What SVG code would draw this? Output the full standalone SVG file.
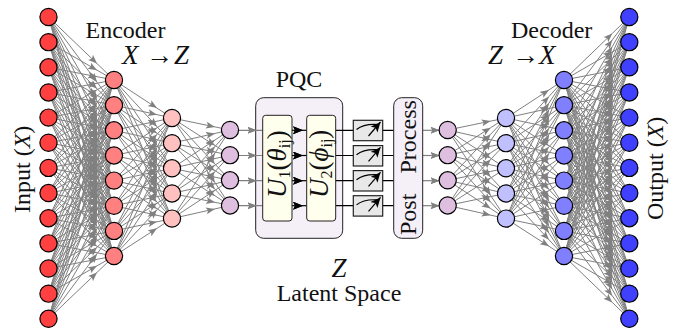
<svg xmlns="http://www.w3.org/2000/svg" width="678" height="331" viewBox="0 0 678 331">
<style>
text{font-family:"Liberation Serif","DejaVu Serif",serif;font-size:24px;fill:#111}
.c path{fill:none;stroke:#808080;stroke-width:1;marker-mid:url(#a)}
.g{fill:none;stroke:#808080;stroke-width:1.2;marker-mid:url(#a)}
.k{fill:none;stroke:#000;stroke-width:1.2;marker-mid:url(#b)}
.w{fill:none;stroke:#000;stroke-width:1.2}
circle{stroke:#000;stroke-width:1.2}
.n1{fill:#ff4040}.n2{fill:#ff8080}.n3{fill:#ffc0c0}.n4{fill:#dfbfdf}.n5{fill:#c0c0ff}.n6{fill:#8080ff}.n7{fill:#4040ff}
.box{fill:#f5eff8;stroke:#222;stroke-width:1}
.u{fill:#ffffee;stroke:#222;stroke-width:1}
.m{fill:#e8e8e8;stroke:#222;stroke-width:1.2}
.big{font-size:27px}
.i{font-style:italic}
.ul{font-size:27px}
.s{font-size:16px}
</style>
<defs>
<marker id="a" markerUnits="userSpaceOnUse" markerWidth="10" markerHeight="8" refX="9" refY="3.5" orient="auto"><path d="M0 0L9 3.5L0 7L2 3.5z" fill="#808080"/></marker>
<marker id="b" markerUnits="userSpaceOnUse" markerWidth="11" markerHeight="9" refX="10" refY="4" orient="auto"><path d="M0 0L10 4L0 8L2 4z" fill="#000"/></marker>
<marker id="e" markerUnits="userSpaceOnUse" markerWidth="11" markerHeight="10" refX="10" refY="4.5" orient="auto"><path d="M0 0L10 4.5L0 9L2.5 4.5z" fill="#000"/></marker>
</defs>
<g id="connectors">
<g class="c" id="enc12">
<path d="M48.5 17l48.5 46.6L114 80"/><path d="M48.5 17l48.5 65.2L114 105.15"/><path d="M48.5 17l48.5 83.8L114 130.3"/><path d="M48.5 17l48.5 102.5L114 155.45"/><path d="M48.5 17l48.5 121.1L114 180.6"/><path d="M48.5 17l48.5 139.7L114 205.75"/><path d="M48.5 17l48.5 158.3L114 230.9"/><path d="M48.5 17l48.5 176.9L114 256.05"/>
<path d="M48.5 42.15l48.5 28L114 80"/><path d="M48.5 42.15l48.5 46.6L114 105.15"/><path d="M48.5 42.15l48.5 65.2L114 130.3"/><path d="M48.5 42.15l48.5 83.8L114 155.45"/><path d="M48.5 42.15l48.5 102.5L114 180.6"/><path d="M48.5 42.15l48.5 121.1L114 205.75"/><path d="M48.5 42.15l48.5 139.7L114 230.9"/><path d="M48.5 42.15l48.5 158.3L114 256.05"/>
<path d="M48.5 67.3l48.5 9.4L114 80"/><path d="M48.5 67.3l48.5 28L114 105.15"/><path d="M48.5 67.3l48.5 46.6L114 130.3"/><path d="M48.5 67.3l48.5 65.2L114 155.45"/><path d="M48.5 67.3l48.5 83.8L114 180.6"/><path d="M48.5 67.3l48.5 102.5L114 205.75"/><path d="M48.5 67.3l48.5 121.1L114 230.9"/><path d="M48.5 67.3l48.5 139.7L114 256.05"/>
<path d="M48.5 92.45l48.5 -9.2L114 80"/><path d="M48.5 92.45l48.5 9.4L114 105.15"/><path d="M48.5 92.45l48.5 28L114 130.3"/><path d="M48.5 92.45l48.5 46.6L114 155.45"/><path d="M48.5 92.45l48.5 65.2L114 180.6"/><path d="M48.5 92.45l48.5 83.8L114 205.75"/><path d="M48.5 92.45l48.5 102.5L114 230.9"/><path d="M48.5 92.45l48.5 121.1L114 256.05"/>
<path d="M48.5 117.6l48.5 -27.8L114 80"/><path d="M48.5 117.6l48.5 -9.2L114 105.15"/><path d="M48.5 117.6l48.5 9.4L114 130.3"/><path d="M48.5 117.6l48.5 28L114 155.45"/><path d="M48.5 117.6l48.5 46.6L114 180.6"/><path d="M48.5 117.6l48.5 65.2L114 205.75"/><path d="M48.5 117.6l48.5 83.8L114 230.9"/><path d="M48.5 117.6l48.5 102.5L114 256.05"/>
<path d="M48.5 142.75l48.5 -46.4L114 80"/><path d="M48.5 142.75l48.5 -27.8L114 105.15"/><path d="M48.5 142.75l48.5 -9.2L114 130.3"/><path d="M48.5 142.75l48.5 9.4L114 155.45"/><path d="M48.5 142.75l48.5 28L114 180.6"/><path d="M48.5 142.75l48.5 46.6L114 205.75"/><path d="M48.5 142.75l48.5 65.2L114 230.9"/><path d="M48.5 142.75l48.5 83.8L114 256.05"/>
<path d="M48.5 167.9l48.5 -65L114 80"/><path d="M48.5 167.9l48.5 -46.4L114 105.15"/><path d="M48.5 167.9l48.5 -27.8L114 130.3"/><path d="M48.5 167.9l48.5 -9.2L114 155.45"/><path d="M48.5 167.9l48.5 9.4L114 180.6"/><path d="M48.5 167.9l48.5 28L114 205.75"/><path d="M48.5 167.9l48.5 46.6L114 230.9"/><path d="M48.5 167.9l48.5 65.2L114 256.05"/>
<path d="M48.5 193.05l48.5 -83.7L114 80"/><path d="M48.5 193.05l48.5 -65L114 105.15"/><path d="M48.5 193.05l48.5 -46.4L114 130.3"/><path d="M48.5 193.05l48.5 -27.8L114 155.45"/><path d="M48.5 193.05l48.5 -9.2L114 180.6"/><path d="M48.5 193.05l48.5 9.4L114 205.75"/><path d="M48.5 193.05l48.5 28L114 230.9"/><path d="M48.5 193.05l48.5 46.6L114 256.05"/>
<path d="M48.5 218.2l48.5 -102.3L114 80"/><path d="M48.5 218.2l48.5 -83.7L114 105.15"/><path d="M48.5 218.2l48.5 -65L114 130.3"/><path d="M48.5 218.2l48.5 -46.4L114 155.45"/><path d="M48.5 218.2l48.5 -27.8L114 180.6"/><path d="M48.5 218.2l48.5 -9.2L114 205.75"/><path d="M48.5 218.2l48.5 9.4L114 230.9"/><path d="M48.5 218.2l48.5 28L114 256.05"/>
<path d="M48.5 243.35l48.5 -120.9L114 80"/><path d="M48.5 243.35l48.5 -102.3L114 105.15"/><path d="M48.5 243.35l48.5 -83.7L114 130.3"/><path d="M48.5 243.35l48.5 -65L114 155.45"/><path d="M48.5 243.35l48.5 -46.4L114 180.6"/><path d="M48.5 243.35l48.5 -27.8L114 205.75"/><path d="M48.5 243.35l48.5 -9.2L114 230.9"/><path d="M48.5 243.35l48.5 9.4L114 256.05"/>
<path d="M48.5 268.5l48.5 -139.5L114 80"/><path d="M48.5 268.5l48.5 -120.9L114 105.15"/><path d="M48.5 268.5l48.5 -102.3L114 130.3"/><path d="M48.5 268.5l48.5 -83.7L114 155.45"/><path d="M48.5 268.5l48.5 -65L114 180.6"/><path d="M48.5 268.5l48.5 -46.4L114 205.75"/><path d="M48.5 268.5l48.5 -27.8L114 230.9"/><path d="M48.5 268.5l48.5 -9.2L114 256.05"/>
<path d="M48.5 293.65l48.5 -158.1L114 80"/><path d="M48.5 293.65l48.5 -139.5L114 105.15"/><path d="M48.5 293.65l48.5 -120.9L114 130.3"/><path d="M48.5 293.65l48.5 -102.3L114 155.45"/><path d="M48.5 293.65l48.5 -83.7L114 180.6"/><path d="M48.5 293.65l48.5 -65L114 205.75"/><path d="M48.5 293.65l48.5 -46.4L114 230.9"/><path d="M48.5 293.65l48.5 -27.8L114 256.05"/>
<path d="M48.5 318.8l48.5 -176.7L114 80"/><path d="M48.5 318.8l48.5 -158.1L114 105.15"/><path d="M48.5 318.8l48.5 -139.5L114 130.3"/><path d="M48.5 318.8l48.5 -120.9L114 155.45"/><path d="M48.5 318.8l48.5 -102.3L114 180.6"/><path d="M48.5 318.8l48.5 -83.7L114 205.75"/><path d="M48.5 318.8l48.5 -65L114 230.9"/><path d="M48.5 318.8l48.5 -46.4L114 256.05"/>
</g>
<g class="c" id="enc23">
<path d="M114 80l43 28.1L172 118"/><path d="M114 80l43 46.7L172 143.15"/><path d="M114 80l43 65.3L172 168.3"/><path d="M114 80l43 84L172 193.45"/><path d="M114 80l43 102.6L172 218.6"/>
<path d="M114 105.15l43 9.5L172 118"/><path d="M114 105.15l43 28.1L172 143.15"/><path d="M114 105.15l43 46.7L172 168.3"/><path d="M114 105.15l43 65.3L172 193.45"/><path d="M114 105.15l43 84L172 218.6"/>
<path d="M114 130.3l43 -9.1L172 118"/><path d="M114 130.3l43 9.5L172 143.15"/><path d="M114 130.3l43 28.1L172 168.3"/><path d="M114 130.3l43 46.7L172 193.45"/><path d="M114 130.3l43 65.3L172 218.6"/>
<path d="M114 155.45l43 -27.7L172 118"/><path d="M114 155.45l43 -9.1L172 143.15"/><path d="M114 155.45l43 9.5L172 168.3"/><path d="M114 155.45l43 28.1L172 193.45"/><path d="M114 155.45l43 46.7L172 218.6"/>
<path d="M114 180.6l43 -46.3L172 118"/><path d="M114 180.6l43 -27.7L172 143.15"/><path d="M114 180.6l43 -9.1L172 168.3"/><path d="M114 180.6l43 9.5L172 193.45"/><path d="M114 180.6l43 28.1L172 218.6"/>
<path d="M114 205.75l43 -64.9L172 118"/><path d="M114 205.75l43 -46.3L172 143.15"/><path d="M114 205.75l43 -27.7L172 168.3"/><path d="M114 205.75l43 -9.1L172 193.45"/><path d="M114 205.75l43 9.5L172 218.6"/>
<path d="M114 230.9l43 -83.5L172 118"/><path d="M114 230.9l43 -64.9L172 143.15"/><path d="M114 230.9l43 -46.3L172 168.3"/><path d="M114 230.9l43 -27.7L172 193.45"/><path d="M114 230.9l43 -9.1L172 218.6"/>
<path d="M114 256.05l43 -102.2L172 118"/><path d="M114 256.05l43 -83.5L172 143.15"/><path d="M114 256.05l43 -64.9L172 168.3"/><path d="M114 256.05l43 -46.3L172 193.45"/><path d="M114 256.05l43 -27.7L172 218.6"/>
</g>
<g class="c" id="enc34">
<path d="M172 118l43 8.9L230 130"/><path d="M172 118l43 27.5L230 155.15"/><path d="M172 118l43 46.1L230 180.3"/><path d="M172 118l43 64.7L230 205.45"/>
<path d="M172 143.15l43 -9.7L230 130"/><path d="M172 143.15l43 8.9L230 155.15"/><path d="M172 143.15l43 27.5L230 180.3"/><path d="M172 143.15l43 46.1L230 205.45"/>
<path d="M172 168.3l43 -28.3L230 130"/><path d="M172 168.3l43 -9.7L230 155.15"/><path d="M172 168.3l43 8.9L230 180.3"/><path d="M172 168.3l43 27.5L230 205.45"/>
<path d="M172 193.45l43 -47L230 130"/><path d="M172 193.45l43 -28.3L230 155.15"/><path d="M172 193.45l43 -9.7L230 180.3"/><path d="M172 193.45l43 8.9L230 205.45"/>
<path d="M172 218.6l43 -65.6L230 130"/><path d="M172 218.6l43 -47L230 155.15"/><path d="M172 218.6l43 -28.3L230 180.3"/><path d="M172 218.6l43 -9.7L230 205.45"/>
</g>
<g class="c" id="dec43">
<path d="M447.7 130l43 -8.9L506 118"/><path d="M447.7 130l43 9.7L506 143.15"/><path d="M447.7 130l43 28.3L506 168.3"/><path d="M447.7 130l43 47L506 193.45"/><path d="M447.7 130l43 65.6L506 218.6"/>
<path d="M447.7 155.15l43 -27.5L506 118"/><path d="M447.7 155.15l43 -8.9L506 143.15"/><path d="M447.7 155.15l43 9.7L506 168.3"/><path d="M447.7 155.15l43 28.3L506 193.45"/><path d="M447.7 155.15l43 47L506 218.6"/>
<path d="M447.7 180.3l43 -46.1L506 118"/><path d="M447.7 180.3l43 -27.5L506 143.15"/><path d="M447.7 180.3l43 -8.9L506 168.3"/><path d="M447.7 180.3l43 9.7L506 193.45"/><path d="M447.7 180.3l43 28.3L506 218.6"/>
<path d="M447.7 205.45l43 -64.7L506 118"/><path d="M447.7 205.45l43 -46.1L506 143.15"/><path d="M447.7 205.45l43 -27.5L506 168.3"/><path d="M447.7 205.45l43 -8.9L506 193.45"/><path d="M447.7 205.45l43 9.7L506 218.6"/>
</g>
<g class="c" id="dec32">
<path d="M506 118l43 -28.1L564 80"/><path d="M506 118l43 -9.5L564 105.15"/><path d="M506 118l43 9.1L564 130.3"/><path d="M506 118l43 27.7L564 155.45"/><path d="M506 118l43 46.3L564 180.6"/><path d="M506 118l43 64.9L564 205.75"/><path d="M506 118l43 83.5L564 230.9"/><path d="M506 118l43 102.2L564 256.05"/>
<path d="M506 143.15l43 -46.7L564 80"/><path d="M506 143.15l43 -28.1L564 105.15"/><path d="M506 143.15l43 -9.5L564 130.3"/><path d="M506 143.15l43 9.1L564 155.45"/><path d="M506 143.15l43 27.7L564 180.6"/><path d="M506 143.15l43 46.3L564 205.75"/><path d="M506 143.15l43 64.9L564 230.9"/><path d="M506 143.15l43 83.5L564 256.05"/>
<path d="M506 168.3l43 -65.3L564 80"/><path d="M506 168.3l43 -46.7L564 105.15"/><path d="M506 168.3l43 -28.1L564 130.3"/><path d="M506 168.3l43 -9.5L564 155.45"/><path d="M506 168.3l43 9.1L564 180.6"/><path d="M506 168.3l43 27.7L564 205.75"/><path d="M506 168.3l43 46.3L564 230.9"/><path d="M506 168.3l43 64.9L564 256.05"/>
<path d="M506 193.45l43 -84L564 80"/><path d="M506 193.45l43 -65.3L564 105.15"/><path d="M506 193.45l43 -46.7L564 130.3"/><path d="M506 193.45l43 -28.1L564 155.45"/><path d="M506 193.45l43 -9.5L564 180.6"/><path d="M506 193.45l43 9.1L564 205.75"/><path d="M506 193.45l43 27.7L564 230.9"/><path d="M506 193.45l43 46.3L564 256.05"/>
<path d="M506 218.6l43 -102.6L564 80"/><path d="M506 218.6l43 -84L564 105.15"/><path d="M506 218.6l43 -65.3L564 130.3"/><path d="M506 218.6l43 -46.7L564 155.45"/><path d="M506 218.6l43 -28.1L564 180.6"/><path d="M506 218.6l43 -9.5L564 205.75"/><path d="M506 218.6l43 9.1L564 230.9"/><path d="M506 218.6l43 27.7L564 256.05"/>
</g>
<g class="c" id="dec21">
<path d="M564 80l48.3 -46.6L629.3 17"/><path d="M564 80l48.3 -28L629.3 42.15"/><path d="M564 80l48.3 -9.4L629.3 67.3"/><path d="M564 80l48.3 9.2L629.3 92.45"/><path d="M564 80l48.3 27.8L629.3 117.6"/><path d="M564 80l48.3 46.4L629.3 142.75"/><path d="M564 80l48.3 65L629.3 167.9"/><path d="M564 80l48.3 83.7L629.3 193.05"/><path d="M564 80l48.3 102.3L629.3 218.2"/><path d="M564 80l48.3 120.9L629.3 243.35"/><path d="M564 80l48.3 139.5L629.3 268.5"/><path d="M564 80l48.3 158.1L629.3 293.65"/><path d="M564 80l48.3 176.7L629.3 318.8"/>
<path d="M564 105.15l48.3 -65.2L629.3 17"/><path d="M564 105.15l48.3 -46.6L629.3 42.15"/><path d="M564 105.15l48.3 -28L629.3 67.3"/><path d="M564 105.15l48.3 -9.4L629.3 92.45"/><path d="M564 105.15l48.3 9.2L629.3 117.6"/><path d="M564 105.15l48.3 27.8L629.3 142.75"/><path d="M564 105.15l48.3 46.4L629.3 167.9"/><path d="M564 105.15l48.3 65L629.3 193.05"/><path d="M564 105.15l48.3 83.7L629.3 218.2"/><path d="M564 105.15l48.3 102.3L629.3 243.35"/><path d="M564 105.15l48.3 120.9L629.3 268.5"/><path d="M564 105.15l48.3 139.5L629.3 293.65"/><path d="M564 105.15l48.3 158.1L629.3 318.8"/>
<path d="M564 130.3l48.3 -83.8L629.3 17"/><path d="M564 130.3l48.3 -65.2L629.3 42.15"/><path d="M564 130.3l48.3 -46.6L629.3 67.3"/><path d="M564 130.3l48.3 -28L629.3 92.45"/><path d="M564 130.3l48.3 -9.4L629.3 117.6"/><path d="M564 130.3l48.3 9.2L629.3 142.75"/><path d="M564 130.3l48.3 27.8L629.3 167.9"/><path d="M564 130.3l48.3 46.4L629.3 193.05"/><path d="M564 130.3l48.3 65L629.3 218.2"/><path d="M564 130.3l48.3 83.7L629.3 243.35"/><path d="M564 130.3l48.3 102.3L629.3 268.5"/><path d="M564 130.3l48.3 120.9L629.3 293.65"/><path d="M564 130.3l48.3 139.5L629.3 318.8"/>
<path d="M564 155.45l48.3 -102.5L629.3 17"/><path d="M564 155.45l48.3 -83.8L629.3 42.15"/><path d="M564 155.45l48.3 -65.2L629.3 67.3"/><path d="M564 155.45l48.3 -46.6L629.3 92.45"/><path d="M564 155.45l48.3 -28L629.3 117.6"/><path d="M564 155.45l48.3 -9.4L629.3 142.75"/><path d="M564 155.45l48.3 9.2L629.3 167.9"/><path d="M564 155.45l48.3 27.8L629.3 193.05"/><path d="M564 155.45l48.3 46.4L629.3 218.2"/><path d="M564 155.45l48.3 65L629.3 243.35"/><path d="M564 155.45l48.3 83.7L629.3 268.5"/><path d="M564 155.45l48.3 102.3L629.3 293.65"/><path d="M564 155.45l48.3 120.9L629.3 318.8"/>
<path d="M564 180.6l48.3 -121.1L629.3 17"/><path d="M564 180.6l48.3 -102.5L629.3 42.15"/><path d="M564 180.6l48.3 -83.8L629.3 67.3"/><path d="M564 180.6l48.3 -65.2L629.3 92.45"/><path d="M564 180.6l48.3 -46.6L629.3 117.6"/><path d="M564 180.6l48.3 -28L629.3 142.75"/><path d="M564 180.6l48.3 -9.4L629.3 167.9"/><path d="M564 180.6l48.3 9.2L629.3 193.05"/><path d="M564 180.6l48.3 27.8L629.3 218.2"/><path d="M564 180.6l48.3 46.4L629.3 243.35"/><path d="M564 180.6l48.3 65L629.3 268.5"/><path d="M564 180.6l48.3 83.7L629.3 293.65"/><path d="M564 180.6l48.3 102.3L629.3 318.8"/>
<path d="M564 205.75l48.3 -139.7L629.3 17"/><path d="M564 205.75l48.3 -121.1L629.3 42.15"/><path d="M564 205.75l48.3 -102.5L629.3 67.3"/><path d="M564 205.75l48.3 -83.8L629.3 92.45"/><path d="M564 205.75l48.3 -65.2L629.3 117.6"/><path d="M564 205.75l48.3 -46.6L629.3 142.75"/><path d="M564 205.75l48.3 -28L629.3 167.9"/><path d="M564 205.75l48.3 -9.4L629.3 193.05"/><path d="M564 205.75l48.3 9.2L629.3 218.2"/><path d="M564 205.75l48.3 27.8L629.3 243.35"/><path d="M564 205.75l48.3 46.4L629.3 268.5"/><path d="M564 205.75l48.3 65L629.3 293.65"/><path d="M564 205.75l48.3 83.7L629.3 318.8"/>
<path d="M564 230.9l48.3 -158.3L629.3 17"/><path d="M564 230.9l48.3 -139.7L629.3 42.15"/><path d="M564 230.9l48.3 -121.1L629.3 67.3"/><path d="M564 230.9l48.3 -102.5L629.3 92.45"/><path d="M564 230.9l48.3 -83.8L629.3 117.6"/><path d="M564 230.9l48.3 -65.2L629.3 142.75"/><path d="M564 230.9l48.3 -46.6L629.3 167.9"/><path d="M564 230.9l48.3 -28L629.3 193.05"/><path d="M564 230.9l48.3 -9.4L629.3 218.2"/><path d="M564 230.9l48.3 9.2L629.3 243.35"/><path d="M564 230.9l48.3 27.8L629.3 268.5"/><path d="M564 230.9l48.3 46.4L629.3 293.65"/><path d="M564 230.9l48.3 65L629.3 318.8"/>
<path d="M564 256.05l48.3 -176.9L629.3 17"/><path d="M564 256.05l48.3 -158.3L629.3 42.15"/><path d="M564 256.05l48.3 -139.7L629.3 67.3"/><path d="M564 256.05l48.3 -121.1L629.3 92.45"/><path d="M564 256.05l48.3 -102.5L629.3 117.6"/><path d="M564 256.05l48.3 -83.8L629.3 142.75"/><path d="M564 256.05l48.3 -65.2L629.3 167.9"/><path d="M564 256.05l48.3 -46.6L629.3 193.05"/><path d="M564 256.05l48.3 -28L629.3 218.2"/><path d="M564 256.05l48.3 -9.4L629.3 243.35"/><path d="M564 256.05l48.3 9.2L629.3 268.5"/><path d="M564 256.05l48.3 27.8L629.3 293.65"/><path d="M564 256.05l48.3 46.4L629.3 318.8"/>
</g>
</g>
<g id="pqc"><rect class="box" x="255.7" y="97.7" width="87" height="140.6" rx="8"/></g>
<g id="circuit-wires">
<path class="g" d="M230 130.3H256.5V130.3H262.7"/><path class="g" d="M230 155.5H256.5V155.5H262.7"/><path class="g" d="M230 180.7H256.5V180.7H262.7"/><path class="g" d="M230 205.7H256.5V205.7H262.7"/>
<path class="k" d="M292 130.3H303V130.3H306.7"/><path class="k" d="M292 155.5H303V155.5H306.7"/><path class="k" d="M292 180.7H303V180.7H306.7"/><path class="k" d="M292 205.7H303V205.7H306.7"/>
<path class="w" d="M335.7 130.3H393.7M335.7 155.5H393.7M335.7 180.7H393.7M335.7 205.7H393.7"/>
<path class="g" d="M422.7 130.3H439.5V130.3H447.7"/><path class="g" d="M422.7 155.5H439.5V155.5H447.7"/><path class="g" d="M422.7 180.7H439.5V180.7H447.7"/><path class="g" d="M422.7 205.7H439.5V205.7H447.7"/>
</g>
<g id="u1"><rect class="u" x="262.7" y="115.3" width="29.3" height="105.7" rx="3"/><text class="ul" transform="translate(285.5 198) rotate(-90)"><tspan class="i">U</tspan><tspan class="s" dy="4">1</tspan><tspan dy="-4">(</tspan><tspan class="i">θ</tspan><tspan class="s" dy="4">ij</tspan><tspan dy="-4">)</tspan></text></g>
<g id="u2"><rect class="u" x="306.7" y="115.3" width="29" height="105.7" rx="3"/><text class="ul" transform="translate(327.7 198) rotate(-90)"><tspan class="i">U</tspan><tspan class="s" dy="4">2</tspan><tspan dy="-4">(</tspan><tspan class="i">ϕ</tspan><tspan class="s" dy="4">ij</tspan><tspan dy="-4">)</tspan></text></g>
<g id="meter1"><rect class="m" x="353.3" y="120.3" width="29.4" height="20.4"/><path class="w" d="M356.5 129.5Q364 123.5 378 124.5"/><path class="w" marker-end="url(#e)" d="M368.5 136L380.5 122"/></g>
<g id="meter2"><rect class="m" x="353.3" y="145.6" width="29.4" height="20.4"/><path class="w" d="M356.5 154.8Q364 148.8 378 149.8"/><path class="w" marker-end="url(#e)" d="M368.5 161.3L380.5 147.3"/></g>
<g id="meter3"><rect class="m" x="353.3" y="170.6" width="29.4" height="20.4"/><path class="w" d="M356.5 179.8Q364 173.8 378 174.8"/><path class="w" marker-end="url(#e)" d="M368.5 186.3L380.5 172.3"/></g>
<g id="meter4"><rect class="m" x="353.3" y="195.7" width="29.4" height="20.4"/><path class="w" d="M356.5 204.9Q364 198.9 378 199.9"/><path class="w" marker-end="url(#e)" d="M368.5 211.4L380.5 197.4"/></g>
<g id="post"><rect class="box" x="393.7" y="97.7" width="29" height="140.6" rx="8"/><text transform="translate(416 235) rotate(-90)">Post</text><text transform="translate(416 173.5) rotate(-90)">Process</text></g>
<g id="nodes">
<g id="in1"><circle class="n1" cx="48.5" cy="17" r="8.6"/></g><g id="in2"><circle class="n1" cx="48.5" cy="42.15" r="8.6"/></g><g id="in3"><circle class="n1" cx="48.5" cy="67.3" r="8.6"/></g><g id="in4"><circle class="n1" cx="48.5" cy="92.45" r="8.6"/></g><g id="in5"><circle class="n1" cx="48.5" cy="117.6" r="8.6"/></g><g id="in6"><circle class="n1" cx="48.5" cy="142.75" r="8.6"/></g><g id="in7"><circle class="n1" cx="48.5" cy="167.9" r="8.6"/></g><g id="in8"><circle class="n1" cx="48.5" cy="193.05" r="8.6"/></g><g id="in9"><circle class="n1" cx="48.5" cy="218.2" r="8.6"/></g><g id="in10"><circle class="n1" cx="48.5" cy="243.35" r="8.6"/></g><g id="in11"><circle class="n1" cx="48.5" cy="268.5" r="8.6"/></g><g id="in12"><circle class="n1" cx="48.5" cy="293.65" r="8.6"/></g><g id="in13"><circle class="n1" cx="48.5" cy="318.8" r="8.6"/></g>
<g id="e2-1"><circle class="n2" cx="114" cy="80" r="8.6"/></g><g id="e2-2"><circle class="n2" cx="114" cy="105.15" r="8.6"/></g><g id="e2-3"><circle class="n2" cx="114" cy="130.3" r="8.6"/></g><g id="e2-4"><circle class="n2" cx="114" cy="155.45" r="8.6"/></g><g id="e2-5"><circle class="n2" cx="114" cy="180.6" r="8.6"/></g><g id="e2-6"><circle class="n2" cx="114" cy="205.75" r="8.6"/></g><g id="e2-7"><circle class="n2" cx="114" cy="230.9" r="8.6"/></g><g id="e2-8"><circle class="n2" cx="114" cy="256.05" r="8.6"/></g>
<g id="e3-1"><circle class="n3" cx="172" cy="118" r="8.6"/></g><g id="e3-2"><circle class="n3" cx="172" cy="143.15" r="8.6"/></g><g id="e3-3"><circle class="n3" cx="172" cy="168.3" r="8.6"/></g><g id="e3-4"><circle class="n3" cx="172" cy="193.45" r="8.6"/></g><g id="e3-5"><circle class="n3" cx="172" cy="218.6" r="8.6"/></g>
<g id="e4-1"><circle class="n4" cx="230" cy="130" r="8.6"/></g><g id="e4-2"><circle class="n4" cx="230" cy="155.15" r="8.6"/></g><g id="e4-3"><circle class="n4" cx="230" cy="180.3" r="8.6"/></g><g id="e4-4"><circle class="n4" cx="230" cy="205.45" r="8.6"/></g>
<g id="d4-1"><circle class="n4" cx="447.7" cy="130" r="8.6"/></g><g id="d4-2"><circle class="n4" cx="447.7" cy="155.15" r="8.6"/></g><g id="d4-3"><circle class="n4" cx="447.7" cy="180.3" r="8.6"/></g><g id="d4-4"><circle class="n4" cx="447.7" cy="205.45" r="8.6"/></g>
<g id="d3-1"><circle class="n5" cx="506" cy="118" r="8.6"/></g><g id="d3-2"><circle class="n5" cx="506" cy="143.15" r="8.6"/></g><g id="d3-3"><circle class="n5" cx="506" cy="168.3" r="8.6"/></g><g id="d3-4"><circle class="n5" cx="506" cy="193.45" r="8.6"/></g><g id="d3-5"><circle class="n5" cx="506" cy="218.6" r="8.6"/></g>
<g id="d2-1"><circle class="n6" cx="564" cy="80" r="8.6"/></g><g id="d2-2"><circle class="n6" cx="564" cy="105.15" r="8.6"/></g><g id="d2-3"><circle class="n6" cx="564" cy="130.3" r="8.6"/></g><g id="d2-4"><circle class="n6" cx="564" cy="155.45" r="8.6"/></g><g id="d2-5"><circle class="n6" cx="564" cy="180.6" r="8.6"/></g><g id="d2-6"><circle class="n6" cx="564" cy="205.75" r="8.6"/></g><g id="d2-7"><circle class="n6" cx="564" cy="230.9" r="8.6"/></g><g id="d2-8"><circle class="n6" cx="564" cy="256.05" r="8.6"/></g>
<g id="out1"><circle class="n7" cx="629.3" cy="17" r="8.6"/></g><g id="out2"><circle class="n7" cx="629.3" cy="42.15" r="8.6"/></g><g id="out3"><circle class="n7" cx="629.3" cy="67.3" r="8.6"/></g><g id="out4"><circle class="n7" cx="629.3" cy="92.45" r="8.6"/></g><g id="out5"><circle class="n7" cx="629.3" cy="117.6" r="8.6"/></g><g id="out6"><circle class="n7" cx="629.3" cy="142.75" r="8.6"/></g><g id="out7"><circle class="n7" cx="629.3" cy="167.9" r="8.6"/></g><g id="out8"><circle class="n7" cx="629.3" cy="193.05" r="8.6"/></g><g id="out9"><circle class="n7" cx="629.3" cy="218.2" r="8.6"/></g><g id="out10"><circle class="n7" cx="629.3" cy="243.35" r="8.6"/></g><g id="out11"><circle class="n7" cx="629.3" cy="268.5" r="8.6"/></g><g id="out12"><circle class="n7" cx="629.3" cy="293.65" r="8.6"/></g><g id="out13"><circle class="n7" cx="629.3" cy="318.8" r="8.6"/></g>
</g>
<g id="labels">
<text x="85.5" y="38">Encoder</text>
<text x="511" y="38">Decoder</text>
<text class="big" y="64"><tspan class="i" x="122">X</tspan><tspan x="146">→</tspan><tspan class="i" x="174">Z</tspan></text>
<text class="big" y="64"><tspan class="i" x="488">Z</tspan><tspan x="512">→</tspan><tspan class="i" x="539">X</tspan></text>
<text x="299" y="87" text-anchor="middle">PQC</text>
<text class="big i" x="339" y="277" text-anchor="middle">Z</text>
<text x="339" y="301" text-anchor="middle">Latent Space</text>
<text transform="translate(30 213) rotate(-90)">Input (<tspan class="i">X</tspan>)</text>
<text transform="translate(663 220) rotate(-90)">Output (<tspan class="i">X</tspan>)</text>
</g>
</svg>
